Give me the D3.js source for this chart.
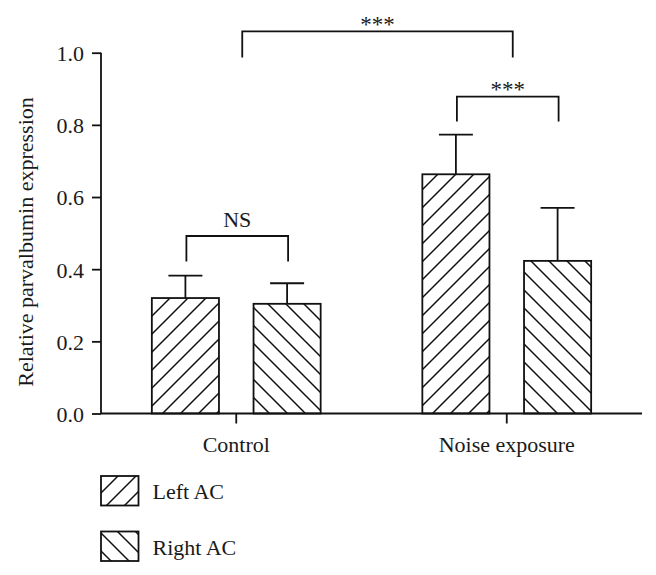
<!DOCTYPE html>
<html>
<head>
<meta charset="utf-8">
<script src="https://cdn.jsdelivr.net/npm/d3@7"></script>
<style>
  html, body { margin: 0; padding: 0; background: #fff; }
  svg { display: block; }
  text { font-family: "Liberation Serif", "DejaVu Serif", serif; fill: #1a1a1a; }
</style>
</head>
<body>
<svg id="chart" width="656" height="575"></svg>
<script>
// ---- data ----
const categories = ["Control", "Noise exposure"];
const series = ["Left AC", "Right AC"];
const leftValues = [0.320, 0.663];
const leftErrors = [0.062, 0.110];
const rightValues = [0.304, 0.423];
const rightErrors = [0.057, 0.147];
const yTicks = [0.0, 0.2, 0.4, 0.6, 0.8, 1.0];
const yLabel = "Relative parvalbumin expression";
// significance brackets
const bracketFrom = [["Control", "Left AC"], ["Control", null], ["Noise exposure", "Left AC"]];
const bracketTo = [["Control", "Right AC"], ["Noise exposure", null], ["Noise exposure", "Right AC"]];
const bracketTop = [0.492, 1.059, 0.878];
const bracketLeg = [0.421, 0.987, 0.809];
const bracketLabels = ["NS", "***", "***"];

const svg = d3.select("#chart");
const margin = { left: 101, right: 642, top: 52.7, bottom: 413.5 };
const FS = 22;

const x0 = d3.scaleBand().domain(categories).range([margin.left, margin.right]).padding(0);
const x1 = d3.scaleBand().domain(series).range([0, x0.bandwidth()]).paddingInner(0.34).paddingOuter(0.5);
const y = d3.scaleLinear().domain([0, 1]).range([margin.bottom, margin.top]);

// patterns
const defs = svg.append("defs");
function hatch(id, d) {
  const p = defs.append("pattern").attr("id", id)
    .attr("patternUnits", "userSpaceOnUse").attr("width", 18).attr("height", 18);
  p.append("rect").attr("width", 18).attr("height", 18).attr("fill", "#fff");
  p.append("path").attr("d", d).attr("stroke", "#111").attr("stroke-width", 1.5).attr("fill", "none");
}
hatch("hatchL", "M0,18 L18,0 M-4.5,4.5 L4.5,-4.5 M13.5,22.5 L22.5,13.5");
hatch("hatchR", "M0,0 L18,18 M-4.5,13.5 L4.5,22.5 M13.5,-4.5 L22.5,4.5");
const fills = { "Left AC": "url(#hatchL)", "Right AC": "url(#hatchR)" };

const rows = [];
categories.forEach((c, i) => {
  rows.push({ cat: c, ser: "Left AC", v: leftValues[i], e: leftErrors[i] });
  rows.push({ cat: c, ser: "Right AC", v: rightValues[i], e: rightErrors[i] });
});
const cx = d => x0(d.cat) + x1(d.ser) + x1.bandwidth() / 2;

// error bars
const eb = svg.append("g").attr("stroke", "#111").attr("stroke-width", 1.8);
rows.forEach(d => {
  eb.append("line").attr("x1", cx(d)).attr("x2", cx(d)).attr("y1", y(d.v)).attr("y2", y(d.v + d.e));
  eb.append("line").attr("x1", cx(d) - 17).attr("x2", cx(d) + 17).attr("y1", y(d.v + d.e)).attr("y2", y(d.v + d.e));
});

// bars
svg.append("g").selectAll("rect").data(rows).join("rect")
  .attr("x", d => x0(d.cat) + x1(d.ser))
  .attr("y", d => y(d.v))
  .attr("width", x1.bandwidth())
  .attr("height", d => y(0) - y(d.v))
  .attr("fill", d => fills[d.ser])
  .attr("stroke", "#111").attr("stroke-width", 1.8);

// y axis
const yAxis = svg.append("g").attr("transform", `translate(${margin.left},0)`)
  .call(d3.axisLeft(y).tickValues(yTicks).tickFormat(d3.format(".1f")).tickSize(9).tickPadding(8));
yAxis.select(".domain").attr("d", `M0,${y(1)}V${y(0)}`).attr("stroke", "#111").attr("stroke-width", 1.8);
yAxis.selectAll(".tick line").attr("stroke", "#111").attr("stroke-width", 1.8);
yAxis.selectAll(".tick text").attr("font-size", FS).attr("font-family", "Liberation Serif, serif").attr("fill", "#1a1a1a").attr("dy", "0.36em");

// x axis
const xAxis = svg.append("g").attr("transform", `translate(0,${y(0)})`)
  .call(d3.axisBottom(x0).tickSize(10).tickPadding(9));
xAxis.select(".domain").attr("d", `M${margin.left},0H${margin.right}`).attr("stroke", "#111").attr("stroke-width", 1.8);
xAxis.selectAll(".tick line").attr("stroke", "#111").attr("stroke-width", 1.8);
xAxis.selectAll(".tick text").attr("font-size", FS).attr("font-family", "Liberation Serif, serif").attr("fill", "#1a1a1a").attr("dy", "0.9em");

// y label
svg.append("text").attr("transform", `translate(33,242) rotate(-90)`)
  .attr("text-anchor", "middle").attr("font-size", FS).text(yLabel);

// brackets
function bx(ref) {
  return ref[1] ? x0(ref[0]) + x1(ref[1]) + x1.bandwidth() / 2 + 1 : x0(ref[0]) + x0.bandwidth() / 2 + 6;
}
const br = svg.append("g");
bracketLabels.forEach((lab, i) => {
  const xa = bx(bracketFrom[i]), xb = bx(bracketTo[i]);
  br.append("path")
    .attr("d", `M${xa},${y(bracketLeg[i])}V${y(bracketTop[i])}H${xb}V${y(bracketLeg[i])}`)
    .attr("fill", "none").attr("stroke", "#111").attr("stroke-width", 1.8);
  const t = br.append("text").attr("x", (xa + xb) / 2).attr("text-anchor", "middle").text(lab);
  if (lab === "NS") t.attr("font-size", FS).attr("y", y(bracketTop[i]) - 8.5);
  else t.attr("font-size", 23).attr("y", y(bracketTop[i]) + 0.5).attr("fill", "#444");
});

// legend
const lg = svg.append("g");
series.forEach((s, i) => {
  const top = 476 + i * 55.5;
  lg.append("rect").attr("x", 101).attr("y", top).attr("width", 37.5).attr("height", 29.5)
    .attr("fill", fills[s]).attr("stroke", "#111").attr("stroke-width", 1.8);
  lg.append("text").attr("x", 152.5).attr("y", top + 23).attr("font-size", FS).text(s);
});
</script>
</body>
</html>
